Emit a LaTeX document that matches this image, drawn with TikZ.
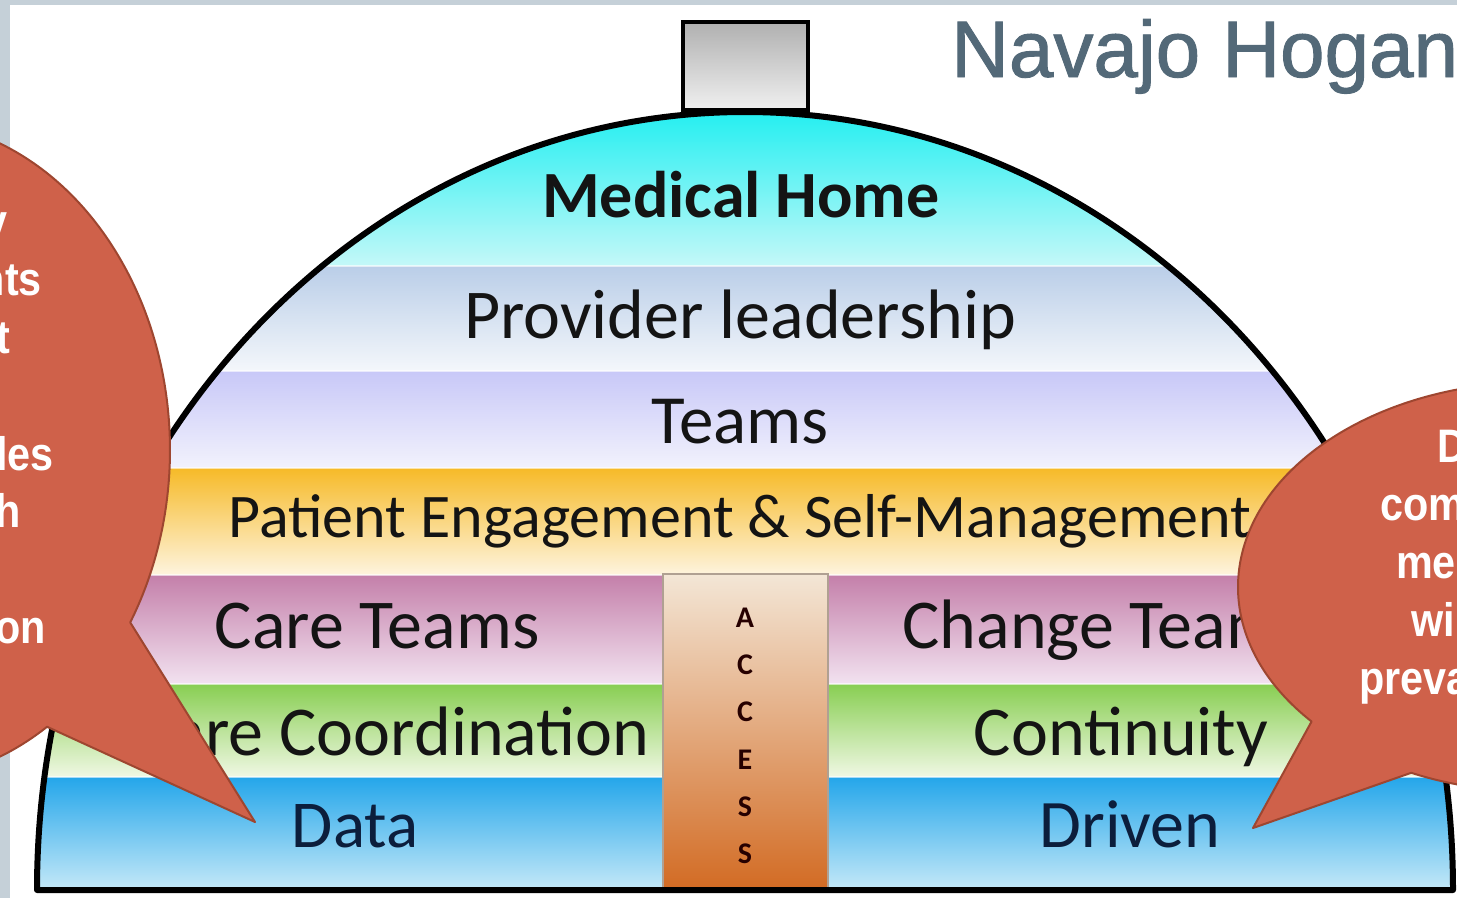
\documentclass[tikz,border=0pt]{standalone}
\usepackage{fontspec}
\setmainfont{Carlito}
\newfontfamily\calloutfont[FakeStretch=0.88]{Liberation Sans}
\newfontfamily\titlefont[FakeBold=1.2]{Liberation Sans}
\usetikzlibrary{calc}

\definecolor{slidegray}{HTML}{C5D0D8}
\definecolor{titleblue}{HTML}{536978}
\definecolor{textdark}{HTML}{141414}
\definecolor{calloutfill}{HTML}{CF614A}
\definecolor{calloutedge}{HTML}{9E4630}

\begin{document}
\begin{tikzpicture}[x=1pt,y=-1pt,
  bandtext/.style={anchor=base,inner sep=0pt,text=textdark},
  bigfont/.style={font=\fontsize{70}{70}\selectfont},
  accessletter/.style={anchor=base,inner sep=0pt,text=black!85!red,
    font=\bfseries\fontsize{30}{30}\selectfont},
  calloutshape/.style={fill=calloutfill,draw=calloutedge,line width=2pt,line join=round},
  callouttext/.style={inner sep=0pt,text=white,
    font=\calloutfont\bfseries\fontsize{47}{47}\selectfont},
  sepline/.style={white,opacity=0.6,line width=2pt}]

\useasboundingbox (0,0) rectangle (1457,898);
\fill[white] (0,0) rectangle (1457,898);

% slide frame strips
\fill[slidegray] (0,0) rectangle (1457,5);
\fill[slidegray] (0,0) rectangle (10,898);

% coloured layers inside the dome
\begin{scope}
  \clip (37,890) arc[start angle=180,end angle=360,x radius=708,y radius=778] -- cycle;
  \shade[top color={rgb,255:red,24;green,238;blue,240},middle color={rgb,255:red,110;green,244;blue,244},
         bottom color={rgb,255:red,196;green,248;blue,248}] (0,100) rectangle (1457,266);
  \shade[top color={rgb,255:red,186;green,206;blue,232},bottom color={rgb,255:red,244;green,247;blue,251}]
         (0,266) rectangle (1457,371);
  \shade[top color={rgb,255:red,200;green,200;blue,248},bottom color={rgb,255:red,242;green,242;blue,252}]
         (0,371) rectangle (1457,468);
  \shade[top color={rgb,255:red,246;green,186;blue,40},middle color={rgb,255:red,252;green,226;blue,160},
         bottom color={rgb,255:red,254;green,244;blue,222}] (0,468) rectangle (1457,575);
  \shade[top color={rgb,255:red,196;green,128;blue,170},bottom color={rgb,255:red,242;green,226;blue,240}]
         (0,575) rectangle (1457,684);
  \shade[top color={rgb,255:red,136;green,206;blue,82},bottom color={rgb,255:red,240;green,248;blue,228}]
         (0,684) rectangle (1457,777);
  \shade[top color={rgb,255:red,36;green,166;blue,234},middle color={rgb,255:red,110;green,194;blue,242},
         bottom color={rgb,255:red,200;green,234;blue,248}] (0,777) rectangle (1457,892);
  % light seams between the layers
  \foreach \yy in {266,371,468,575,684,777}
    \draw[sepline] (0,\yy) -- (1457,\yy);

  % access column
  \shade[top color={rgb,255:red,243;green,230;blue,214},middle color={rgb,255:red,232;green,176;blue,132},
         bottom color={rgb,255:red,210;green,106;blue,34},draw={rgb,255:red,176;green,160;blue,146},line width=2pt]
         (663,574) rectangle (828,892);

  % layer labels
  \node[bandtext,font=\bfseries\fontsize{66}{66}\selectfont] (medical) at (741,217) {Medical Home};
  \node[bandtext,bigfont] (provider) at (740,338) {Provider leadership};
  \node[bandtext,font=\fontsize{69}{69}\selectfont] (teams) at (740,443) {Teams};
  \node[bandtext,font=\fontsize{62}{62}\selectfont] (patient) at (740,537) {Patient Engagement \& Self-Management};
  \node[bandtext,bigfont] (careteams) at (377,648) {Care Teams};
  \node[bandtext,bigfont] (changeteams) at (1106,648) {Change Teams};
  \node[bandtext,bigfont] (carecoord) at (392,755) {Care Coordination};
  \node[bandtext,bigfont] (continuity) at (1121,755) {Continuity};
  \node[bandtext,font=\fontsize{67}{67}\selectfont,text={rgb,255:red,12;green,30;blue,60}] (data) at (355,847) {Data};
  \node[bandtext,font=\fontsize{68}{68}\selectfont,text={rgb,255:red,12;green,30;blue,60}] (driven) at (1130,847) {Driven};

  \node[accessletter] (acc1) at (745,627) {A};
  \node[accessletter] (acc2) at (745,674) {C};
  \node[accessletter] (acc3) at (745,721) {C};
  \node[accessletter] (acc4) at (745,769) {E};
  \node[accessletter] (acc5) at (745,816) {S};
  \node[accessletter] (acc6) at (745,863) {S};
\end{scope}

% chimney
\shade[top color={rgb,255:red,176;green,176;blue,176},bottom color={rgb,255:red,240;green,240;blue,240},
       draw=black,line width=4pt] (683,22) rectangle (808,110);

% dome outline
\draw[line width=6pt,line join=round]
  (37,890) arc[start angle=180,end angle=360,x radius=708,y radius=778] -- cycle;

% left speech bubble
\filldraw[calloutshape] (-100,450) ++(57:270 and 330)
  arc[start angle=57,end angle=391.5,x radius=270,y radius=330] -- (255,822) -- cycle;
\node[callouttext,anchor=base east] (l1) at (8,237) {y};
\node[callouttext,anchor=base east] (l2) at (42,295) {nts};
\node[callouttext,anchor=base east] (l3) at (10,353) {t};
\node[callouttext,anchor=base east] (l4) at (54,470) {les};
\node[callouttext,anchor=base east] (l5) at (21,527) {h};
\node[callouttext,anchor=base east] (l6) at (46,643) {on};

% right speech bubble
\filldraw[calloutshape] (1538,587) ++(139:300 and 205)
  arc[start angle=139,end angle=475,x radius=300,y radius=205] -- (1253,828) -- cycle;
\node[callouttext,anchor=base west] (r1) at (1437,462) {D};
\node[callouttext,anchor=base west] (r2) at (1380,520) {com};
\node[callouttext,anchor=base west] (r3) at (1396,578) {me};
\node[callouttext,anchor=base west] (r4) at (1411,636) {wi};
\node[callouttext,anchor=base west] (r5) at (1359,694) {preva};

% title
\node[anchor=base west,inner sep=0pt,text=titleblue,font=\titlefont\fontsize{80}{80}\selectfont]
  (title) at (951,77) {Navajo Hogan};
\end{tikzpicture}
\end{document}
